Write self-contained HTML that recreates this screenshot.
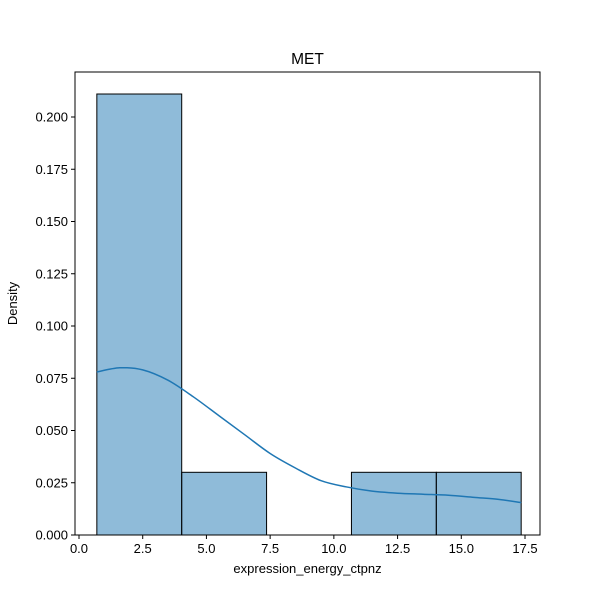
<!DOCTYPE html>
<html><head><meta charset="utf-8"><style>
body{margin:0;background:#fff;font-family:"Liberation Sans",sans-serif}
text{font-family:"Liberation Sans",sans-serif;fill:#000}
</style></head><body>
<svg id="chart" width="600" height="600">
<rect width="600" height="600" fill="#fff"/>
<g id="plot"></g>
</svg>
<script>
const binEdges=[0.7,4.03,7.36,10.69,14.02,17.35];
const densities=[0.211,0.030,0,0.030,0.030];
const kdeX=[0.7,1.6,2.5,3.5,4.5,5.5,6.5,7.5,8.5,9.5,10.5,11.5,12.5,13.5,14.5,15.5,16.5,17.35];
const kdeY=[0.078,0.080,0.079,0.074,0.066,0.057,0.048,0.039,0.032,0.026,0.023,0.021,0.020,0.0195,0.019,0.018,0.017,0.0155];
const xTicks=[0,2.5,5,7.5,10,12.5,15,17.5];
const xTickLabels=["0.0","2.5","5.0","7.5","10.0","12.5","15.0","17.5"];
const yTicks=[0,0.025,0.05,0.075,0.1,0.125,0.15,0.175,0.2];
const yTickLabels=["0.000","0.025","0.050","0.075","0.100","0.125","0.150","0.175","0.200"];

const L=75,R=540,T=72,B=535;
const sx=v=>79+v*(446/17.5);
const sy=v=>535-v*(418/0.2);
const NS="http://www.w3.org/2000/svg";
const g=document.getElementById('plot');
function mk(tag,attrs){const e=document.createElementNS(NS,tag);for(const k in attrs)e.setAttribute(k,attrs[k]);g.appendChild(e);return e;}

densities.forEach((d,i)=>{
  const r=mk('rect',{x:sx(binEdges[i]),y:sy(d),width:sx(binEdges[i+1])-sx(binEdges[i]),height:sy(0)-sy(d),fill:'rgba(31,119,180,0.5)',stroke:'#000','stroke-width':1});
  
  
});
const pts=kdeX.map((x,i)=>[sx(x),sy(kdeY[i])]);
let d='M'+pts[0][0]+','+pts[0][1];
for(let i=0;i<pts.length-1;i++){
  const p0=pts[Math.max(0,i-1)],p1=pts[i],p2=pts[i+1],p3=pts[Math.min(pts.length-1,i+2)];
  d+='C'+(p1[0]+(p2[0]-p0[0])/6)+','+(p1[1]+(p2[1]-p0[1])/6)+' '+(p2[0]-(p3[0]-p1[0])/6)+','+(p2[1]-(p3[1]-p1[1])/6)+' '+p2[0]+','+p2[1];
}
const p=mk('path',{d:d,fill:'none',stroke:'#1f77b4','stroke-width':1.5});



const fr=mk('rect',{x:L,y:T,width:R-L,height:B-T,fill:'none',stroke:'#000','stroke-width':1});



xTicks.forEach((v,i)=>{
  mk('line',{x1:sx(v),x2:sx(v),y1:B,y2:B+4,stroke:'#000'});
  const t=mk('text',{x:sx(v),y:B+18,'text-anchor':'middle','font-size':13});
  t.textContent=xTickLabels[i];
  
  
});
yTicks.forEach((v,i)=>{
  mk('line',{x1:L-4,x2:L,y1:sy(v),y2:sy(v),stroke:'#000'});
  const t=mk('text',{x:L-7,y:sy(v)+4.5,'text-anchor':'end','font-size':13});
  t.textContent=yTickLabels[i];
  
  
});
</script>
<svg width="600" height="600" style="position:absolute;left:0;top:0;pointer-events:none">
<text x="307.5" y="64" text-anchor="middle" font-size="15.5">MET</text>
<text x="307.5" y="573" text-anchor="middle" font-size="13">expression_energy_ctpnz</text>
<text x="17" y="303.5" text-anchor="middle" font-size="13" transform="rotate(-90 17 303.5)">Density</text>
</svg>
</body></html>
